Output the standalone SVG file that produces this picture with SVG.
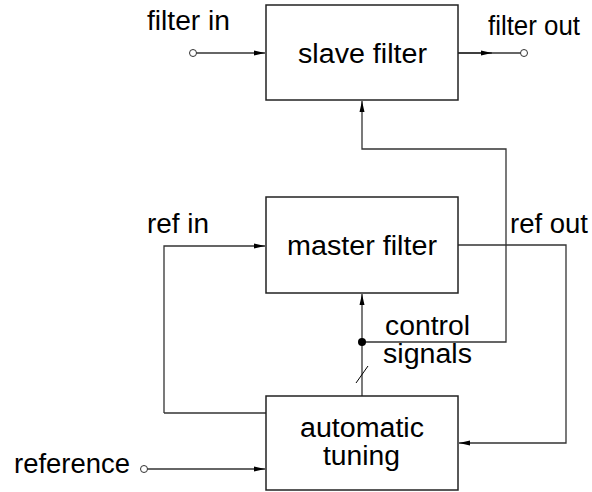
<svg xmlns="http://www.w3.org/2000/svg" width="592" height="492" viewBox="0 0 592 492">
<style>
.box{fill:#fff;stroke:#222;stroke-width:1.5}
.w{fill:none;stroke:#333;stroke-width:1.3}
.t{font-family:"Liberation Sans",Arial,sans-serif;font-size:27px;fill:#000}
.term{fill:#fff;stroke:#333;stroke-width:1}
</style>
<defs>
<marker id="ah" markerWidth="12" markerHeight="8" refX="11" refY="4" orient="auto" markerUnits="userSpaceOnUse">
<path d="M0,1.5 L11,4 L0,6.5 Z" fill="#000"/>
</marker>
</defs>
<g id="connectors">
<line class="w" x1="196" y1="53" x2="265" y2="53" marker-end="url(#ah)"/>
<line class="w" x1="458" y1="53" x2="521" y2="53"/>
<path class="w" d="M458,53 L492,53" marker-end="url(#ah)"/>
<line class="w" x1="164" y1="413" x2="266" y2="413"/>
<path class="w" d="M164,413 L164,246 L265,246" marker-end="url(#ah)"/>
<path class="w" d="M458,245 L566,245 L566,443 L459,443" marker-end="url(#ah)"/>
<path class="w" d="M362,396 L362,294" marker-end="url(#ah)"/>
<path class="w" d="M362,342 L506,342 L506,149 L362,149 L362,101" marker-end="url(#ah)"/>
<line class="w" x1="147" y1="469" x2="265" y2="469" marker-end="url(#ah)"/>
<line x1="356" y1="383" x2="368" y2="366" stroke="#000" stroke-width="1"/>
<circle cx="362" cy="342" r="4" fill="#000"/>
<circle class="term" cx="193" cy="53" r="3.5"/>
<circle class="term" cx="524" cy="53" r="3.5"/>
<circle class="term" cx="144" cy="469" r="3.5"/>
</g>
<g id="slave">
<rect class="box" x="266" y="5" width="192" height="95"/>
<text class="t" x="298" y="63" textLength="129" lengthAdjust="spacingAndGlyphs">slave filter</text>
</g>
<g id="master">
<rect class="box" x="266" y="197" width="192" height="96"/>
<text class="t" x="287" y="255" textLength="150" lengthAdjust="spacingAndGlyphs">master filter</text>
</g>
<g id="tuning">
<rect class="box" x="266" y="396" width="192" height="94"/>
<text class="t" x="300" y="437" textLength="124" lengthAdjust="spacingAndGlyphs">automatic</text>
<text class="t" x="323" y="465" textLength="77" lengthAdjust="spacingAndGlyphs">tuning</text>
</g>
<g id="labels">
<text class="t" x="147" y="30" textLength="83" lengthAdjust="spacingAndGlyphs">filter in</text>
<text class="t" x="488" y="35" textLength="92" lengthAdjust="spacingAndGlyphs">filter out</text>
<text class="t" x="147" y="233" textLength="62" lengthAdjust="spacingAndGlyphs">ref in</text>
<text class="t" x="510" y="233" textLength="78" lengthAdjust="spacingAndGlyphs">ref out</text>
<text class="t" x="385" y="335" textLength="85" lengthAdjust="spacingAndGlyphs">control</text>
<text class="t" x="383" y="363" textLength="89" lengthAdjust="spacingAndGlyphs">signals</text>
<text class="t" x="14" y="473" textLength="116" lengthAdjust="spacingAndGlyphs">reference</text>
</g>
</svg>
